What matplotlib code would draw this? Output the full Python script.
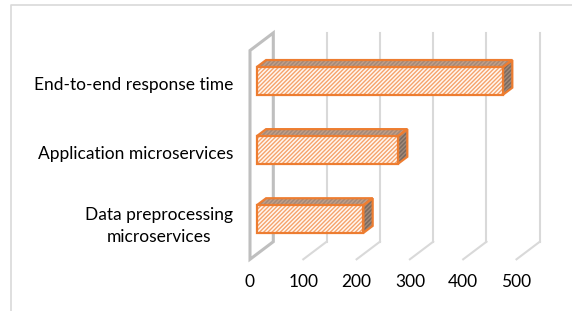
import matplotlib
matplotlib.use('Agg')
import matplotlib.pyplot as plt
from matplotlib.patches import Polygon
import numpy as np

plt.rcParams['font.family'] = ['Lato', 'DejaVu Sans']
plt.rcParams['hatch.linewidth'] = 1.0

# data
categories = ['Data preprocessing\nmicroservices', 'Application microservices',
              'End-to-end response time']
values = [200, 265, 462]
ticks = [0, 100, 200, 300, 400, 500]

ORANGE = '#ED7D31'
GRID = '#d9d9d9'
WALL = '#bfbfbf'
HATCH = '/' * 8

# pixel layout -> data mapping (value 0 on front plane at px 250, 100 per 53.3 px)
W, H = 572, 311
px_per_val = 53.3 / 100.0
px_per_cat = 69.1
x0_px, y0_px = 250.0, 219.0 + 5.2   # category 0 on front plane

fig = plt.figure(figsize=(W / 100, H / 100), dpi=100)
ax = fig.add_axes([0, 0, 1, 1])
ax.set_xlim(-x0_px / px_per_val, (W - x0_px) / px_per_val)
ax.set_ylim((y0_px - H) / px_per_cat, y0_px / px_per_cat)
ax.axis('off')

# depth vector (front plane -> back wall)
ddx = 23.3 / px_per_val
ddy = 17.6 / px_per_cat
y_floor = (y0_px - 259.3) / px_per_cat
y_top = (y0_px - 50.5) / px_per_cat

# outer chart frame
fx0 = -(x0_px - 11) / px_per_val
fy0 = (y0_px - 5) / px_per_cat
ax.plot([fx0, fx0, ax.get_xlim()[1]], [ax.get_ylim()[0], fy0, fy0],
        color=GRID, lw=1.2, solid_capstyle='butt')

# back-wall and floor gridlines
for t in ticks:
    if t == 0:
        continue
    ax.plot([t + ddx, t + ddx], [y_floor + ddy, y_top + ddy], color=GRID, lw=1.5)
    ax.plot([t, t + ddx], [y_floor, y_floor + ddy], color=GRID, lw=1.5)

# side wall
wall = Polygon([(0, y_floor), (0, y_top), (ddx, y_top + ddy), (ddx, y_floor + ddy)],
               closed=True, facecolor='white', edgecolor=WALL, lw=2.2, joinstyle='miter')
ax.add_patch(wall)


def face(pts, fc, hc, z):
    # hatched fill (hatch takes the edge colour) + orange outline on top
    ax.add_patch(Polygon(pts, closed=True, facecolor=fc, edgecolor=hc, lw=0,
                         hatch=HATCH, zorder=z))
    ax.add_patch(Polygon(pts, closed=True, facecolor='none', edgecolor=ORANGE,
                         lw=1.6, joinstyle='miter', zorder=z + 0.5))


# bars
f_front, f_back = 0.29, 0.69
half = 0.2
for i, v in enumerate(values):
    bx = f_front * ddx
    by = i + f_front * ddy
    kx = (f_back - f_front) * ddx
    ky = (f_back - f_front) * ddy
    face([(bx, by + half), (bx + kx, by + half + ky),
          (bx + v + kx, by + half + ky), (bx + v, by + half)],
         '#a3897a', '#c29f88', 3)
    face([(bx + v, by - half), (bx + v, by + half),
          (bx + v + kx, by + half + ky), (bx + v + kx, by - half + ky)],
         '#7b6a5f', '#a38b7b', 3)
    face([(bx, by - half), (bx + v, by - half), (bx + v, by + half), (bx, by + half)],
         '#fff7f1', '#f5a36c', 4)

# category labels
lab_x = (233 - x0_px) / px_per_val
for i, c in enumerate(categories):
    yy = i + 0.02 if '\n' not in c else i - 0.02
    ax.text(lab_x, yy, c, ha='right', multialignment='center',
            va='center', fontsize=12.5, color='#000000', linespacing=1.45)

# value tick labels
ty = (y0_px - 282) / px_per_cat
for t in ticks:
    ax.text(t, ty, str(t), ha='center', va='center', fontsize=12.5, color='#000000')

fig.savefig('out.png', dpi=100)
